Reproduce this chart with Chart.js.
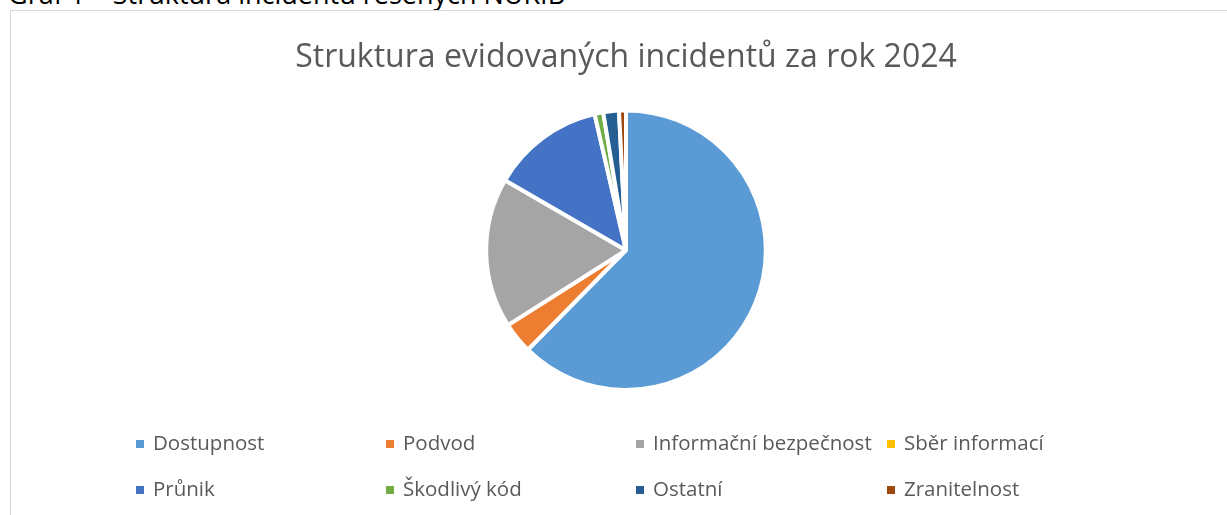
<!DOCTYPE html>
<html>
<head>
<meta charset="utf-8">
<script src="https://cdn.jsdelivr.net/npm/chart.js"></script>
<style>
  body { margin: 0; background: #fff; overflow: hidden; width: 1227px; height: 515px; position: relative; }
  #caption { position: absolute; left: 8px; top: -25px; font-family: "Open Sans", sans-serif; font-size: 27px; color: #000; white-space: nowrap; }
  #frame { position: absolute; left: 10px; top: 10px; width: 1240px; height: 540px; border: 1px solid #d9d9d9; }
  #wrap { position: absolute; left: 0; top: 0; width: 1227px; height: 515px; }
</style>
</head>
<body>
<div id="caption">Graf 1 – Struktura incidentů řešených NÚKIB</div>
<div id="frame"></div>
<div id="wrap"><canvas id="pieChart"></canvas></div>
<script>
const categories = ["Dostupnost", "Podvod", "Informační bezpečnost", "Sběr informací", "Průnik", "Škodlivý kód", "Ostatní", "Zranitelnost"];
const shares = [62.2, 3.6, 17.3, 0, 13.0, 1.0, 1.8, 0.8];
const colors = ["#5B9BD5", "#ED7D31", "#A5A5A5", "#FFC000", "#4472C4", "#70AD47", "#255E91", "#9E480E"];
const chartTitle = "Struktura evidovaných incidentů za rok 2024";

// legend laid out in a fixed grid like the original
const gridLegend = {
  id: "gridLegend",
  afterDraw(chart) {
    const ctx = chart.ctx;
    const colX = [136, 386, 636, 887];
    const rowY = [444, 490];
    ctx.save();
    ctx.font = "20.5px 'Open Sans', sans-serif";
    ctx.textBaseline = "middle";
    categories.forEach((name, i) => {
      const x = colX[i % 4];
      const y = rowY[Math.floor(i / 4)];
      ctx.fillStyle = colors[i];
      ctx.fillRect(x, y - 4, 8, 8);
      ctx.fillStyle = "#595959";
      ctx.fillText(name, x + 17, y);
    });
    ctx.restore();
  }
};

new Chart(document.getElementById("pieChart"), {
  type: "pie",
  data: {
    labels: categories,
    datasets: [{
      data: shares,
      backgroundColor: colors,
      borderColor: "#ffffff",
      borderWidth: 4
    }]
  },
  options: {
    responsive: true,
    maintainAspectRatio: false,
    animation: false,
    layout: { padding: { left: 25, right: 0, top: 0, bottom: 123 } },
    plugins: {
      legend: { display: false },
      tooltip: { enabled: false },
      title: {
        display: true,
        text: chartTitle,
        color: "#595959",
        font: { family: "'Open Sans', sans-serif", size: 32, weight: "normal" },
        padding: { top: 39, bottom: 31 }
      }
    }
  },
  plugins: [gridLegend]
});
</script>
</body>
</html>
